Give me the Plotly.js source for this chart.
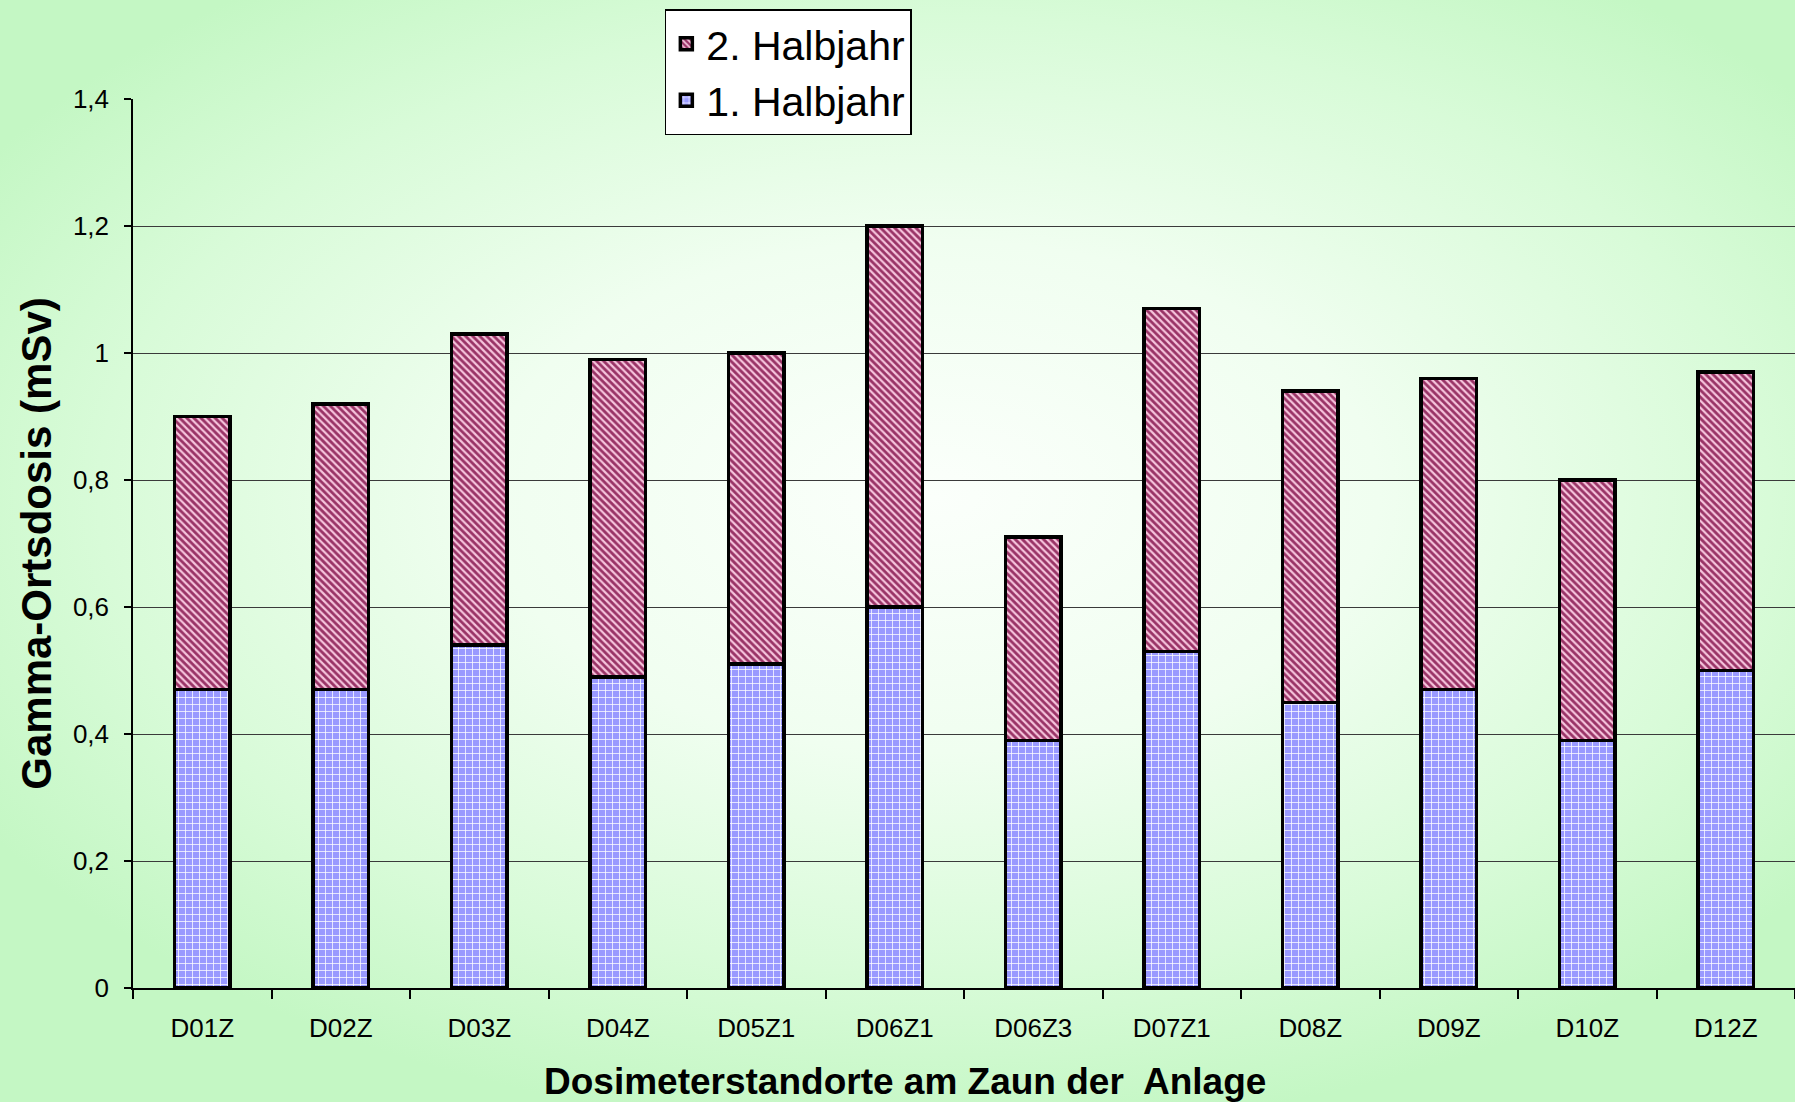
<!DOCTYPE html>
<html>
<head>
<meta charset="utf-8">
<script src="https://cdn.plot.ly/plotly-3.0.1.min.js"></script>
<style>
html,body{margin:0;padding:0;}
#chart{width:1795px;height:1102px;
background: radial-gradient(ellipse 62% 58% at 52% 45%, #fbfffb 0%, #f0fef0 40%, #d8fbd8 75%, #c4f7c4 100%);}
</style>
</head>
<body>
<div id="chart"></div>
<script>
var categories = ['D01Z','D02Z','D03Z','D04Z','D05Z1','D06Z1','D06Z3','D07Z1','D08Z','D09Z','D10Z','D12Z'];
var firstHalf  = [0.47, 0.47, 0.54, 0.49, 0.51, 0.60, 0.39, 0.53, 0.45, 0.47, 0.39, 0.50];
var secondHalf = [0.43, 0.45, 0.49, 0.50, 0.49, 0.60, 0.32, 0.54, 0.49, 0.49, 0.41, 0.47];
var seriesNames = ['1. Halbjahr', '2. Halbjahr'];
var xTitle = 'Dosimeterstandorte am Zaun der\u00a0 Anlage';
var yTitle = 'Gamma-Ortsdosis (mSv)';

var traces = [
  {
    type: 'bar', name: seriesNames[0], x: categories, y: firstHalf, width: 0.4,
    marker: {
      color: '#9999ff',
      line: {color: '#000000', width: 3.5},
      pattern: {shape: '+', bgcolor: '#9999ff', fgcolor: '#ffffff', size: 7, solidity: 0.2, fillmode: 'replace'}
    },
    hoverinfo: 'x+y'
  },
  {
    type: 'bar', name: seriesNames[1], x: categories, y: secondHalf, width: 0.4,
    marker: {
      color: '#993366',
      line: {color: '#000000', width: 3.5},
      pattern: {shape: '\\', bgcolor: '#993366', fgcolor: '#f6c4dc', size: 5, solidity: 0.45, fillmode: 'replace'}
    },
    hoverinfo: 'x+y'
  }
];

var layout = {
  width: 1795, height: 1102,
  paper_bgcolor: 'rgba(0,0,0,0)',
  plot_bgcolor: 'rgba(0,0,0,0)',
  barmode: 'stack',
  separators: ',.',
  font: {family: 'Arial, Liberation Sans, sans-serif', color: '#000000'},
  margin: {l: 133, r: 0, t: 99, b: 114, pad: 0},
  showlegend: true,
  legend: {
    x: 0.32, y: 1.101, xanchor: 'left', yanchor: 'top',
    traceorder: 'reversed',
    bgcolor: '#ffffff', bordercolor: '#000000', borderwidth: 1.5,
    font: {size: 41, family: 'Arial, Liberation Sans, sans-serif', color: '#000000'},
    tracegroupgap: 0
  },
  xaxis: {
    type: 'category',
    showline: true, linecolor: '#000000', linewidth: 1.5,
    ticks: 'outside', tickson: 'boundaries', ticklen: 9, tickcolor: '#000000', tickwidth: 1.5,
    tickfont: {size: 26},
    ticklabelstandoff: 16,
    showgrid: false, zeroline: false
  },
  yaxis: {
    range: [0, 1.4], dtick: 0.2, tick0: 0,
    showline: true, linecolor: '#000000', linewidth: 1.5,
    ticks: 'outside', ticklen: 7, tickcolor: '#000000', tickwidth: 1.5,
    tickfont: {size: 26},
    ticklabelstandoff: 10,
    showgrid: true, gridcolor: '#3a3a3a', gridwidth: 1.2,
    zeroline: false,
    title: {text: yTitle, font: {size: 42, weight: 'bold'}, standoff: 8}
  },
  annotations: [
    {
      text: xTitle, xref: 'paper', yref: 'paper', x: 0.4645, y: -0.105,
      xanchor: 'center', yanchor: 'middle', showarrow: false,
      font: {size: 37, weight: 'bold', family: 'Arial, Liberation Sans, sans-serif', color: '#000000'}
    }
  ]
};

Plotly.newPlot('chart', traces, layout, {displayModeBar: false});
</script>
</body>
</html>
